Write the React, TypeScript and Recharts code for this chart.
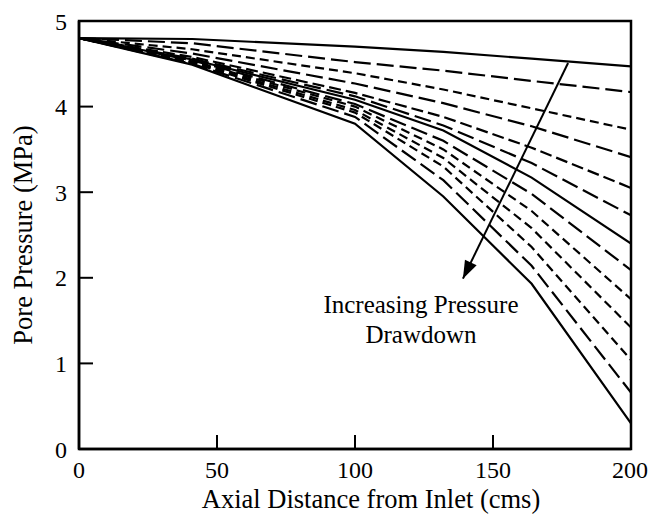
import React from 'react';
import { LineChart, Line, XAxis, YAxis, ReferenceArea, ReferenceDot } from 'recharts';

// Axial distance (cm) of each measurement point
const distances = [0, 41, 100, 132, 164, 200];

// Pore pressure (MPa) curves, from smallest to largest drawdown
const curve1 = [4.80, 4.79, 4.70, 4.64, 4.56, 4.47];
const curve2 = [4.80, 4.74, 4.52, 4.42, 4.30, 4.17];
const curve3 = [4.80, 4.67, 4.39, 4.20, 3.98, 3.73];
const curve4 = [4.80, 4.62, 4.27, 4.04, 3.77, 3.41];
const curve5 = [4.80, 4.58, 4.16, 3.88, 3.52, 3.05];
const curve6 = [4.80, 4.56, 4.12, 3.78, 3.34, 2.73];
const curve7 = [4.80, 4.55, 4.08, 3.72, 3.17, 2.40];
const curve8 = [4.80, 4.54, 4.03, 3.60, 2.98, 2.09];
const curve9 = [4.80, 4.53, 4.00, 3.50, 2.78, 1.75];
const curve10 = [4.80, 4.52, 3.96, 3.40, 2.58, 1.42];
const curve11 = [4.80, 4.51, 3.93, 3.30, 2.36, 1.04];
const curve12 = [4.80, 4.50, 3.88, 3.14, 2.14, 0.66];
const curve13 = [4.80, 4.49, 3.80, 2.95, 1.93, 0.30];

const curves = [curve1, curve2, curve3, curve4, curve5, curve6, curve7, curve8, curve9, curve10, curve11, curve12, curve13];
const dashes = ['', '17 6', '9 5', '17 6', '12 5', '17 6', '', '17 6', '9 5', '9 5', '9 5', '17 6', ''];

const xTicks = [0, 50, 100, 150, 200];
const yTicks = [0, 1, 2, 3, 4, 5];

// Annotation arrow (data coordinates)
const arrowX = [177.2, 139.1];
const arrowY = [4.51, 1.99];
const arrowData = arrowX.map((x, i) => ({ x, y: arrowY[i] }));

const annotationLines = ['Increasing Pressure', 'Drawdown'];
const annotationX = [123.9, 123.9];
const annotationY = [1.592, 1.235];

const data = distances.map((x, i) => {
  const row: any = { x };
  curves.forEach((c, k) => { row['c' + (k + 1)] = c[i]; });
  return row;
});

const FONT = '"Liberation Serif", "Times New Roman", serif';

let arrowStart: { x: number; y: number } | null = null;
const ArrowDot = (props: any) => {
  const { cx, cy, index } = props;
  if (index === 0) {
    arrowStart = { x: cx, y: cy };
    return <g key="a0" />;
  }
  if (!arrowStart) return <g key="a1" />;
  const ang = Math.atan2(cy - arrowStart.y, cx - arrowStart.x);
  const L = 18;
  const W = 6.5;
  const bx = cx - L * Math.cos(ang);
  const by = cy - L * Math.sin(ang);
  const px = -Math.sin(ang) * W;
  const py = Math.cos(ang) * W;
  return <polygon key="a1" points={`${cx},${cy} ${bx + px},${by + py} ${bx - px},${by - py}`} fill="#000" />;
};

export default function App() {
  return (
    <div style={{ fontFamily: FONT }}>
      <LineChart width={640} height={515} data={data} margin={{ top: 13, right: 17, bottom: 14, left: 0 }}>
        <XAxis
          dataKey="x"
          type="number"
          domain={[0, 200]}
          ticks={xTicks}
          allowDataOverflow
          height={60}
          tickSize={-14}
          tickMargin={26}
          axisLine={{ stroke: '#000', strokeWidth: 2.5 }}
          tickLine={{ stroke: '#000', strokeWidth: 2 }}
          tick={{ fill: '#000', fontSize: 24, fontFamily: FONT }}
          label={{ value: 'Axial Distance from Inlet (cms)', position: 'insideBottom', offset: 1, dx: 16, fill: '#000', fontSize: 26.5, fontFamily: FONT }}
        />
        <YAxis
          type="number"
          domain={[0, 5]}
          ticks={yTicks}
          allowDataOverflow
          width={71}
          tickSize={-14}
          tickMargin={26}
          axisLine={{ stroke: '#000', strokeWidth: 2.5 }}
          tickLine={{ stroke: '#000', strokeWidth: 2 }}
          tick={{ fill: '#000', fontSize: 24, fontFamily: FONT }}
          label={{ value: 'Pore Pressure (MPa)', angle: -90, position: 'center', dx: -21, fill: '#000', fontSize: 26.5, fontFamily: FONT }}
        />
        <ReferenceArea x1={0} x2={200} y1={0} y2={5} fill="none" stroke="#000" strokeWidth={2.5} />
        {curves.map((_, k) => (
          <Line
            key={k}
            dataKey={'c' + (k + 1)}
            type="linear"
            stroke="#000"
            strokeWidth={2.2}
            strokeDasharray={dashes[k] || undefined}
            dot={false}
            activeDot={false}
            isAnimationActive={false}
          />
        ))}
        <Line
          data={arrowData}
          dataKey="y"
          type="linear"
          stroke="#000"
          strokeWidth={2}
          dot={ArrowDot}
          activeDot={false}
          isAnimationActive={false}
        />
        {annotationLines.map((t, i) => (
          <ReferenceDot
            key={t}
            x={annotationX[i]}
            y={annotationY[i]}
            r={0}
            shape={(p: any) => (
              <text x={p.cx} y={p.cy} textAnchor="middle" fontSize={25} fontFamily={FONT} fill="#000">
                {t}
              </text>
            )}
          />
        ))}
      </LineChart>
    </div>
  );
}
